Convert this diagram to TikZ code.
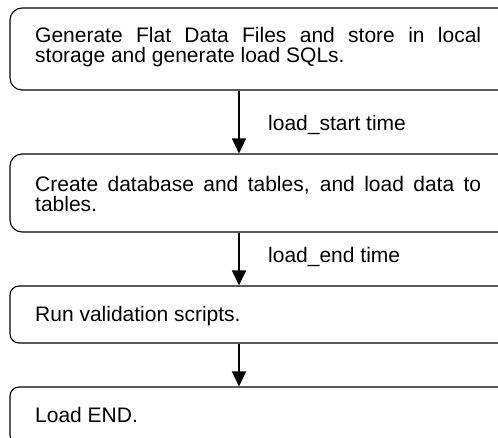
\documentclass[tikz,border=0pt]{standalone}
\usepackage{fontspec}
\setmainfont{Liberation Sans}
\usetikzlibrary{arrows.meta}
\begin{document}
\begin{tikzpicture}[x=1pt,y=-1pt,
  boxbig/.style={draw=black, line width=1.1pt, rounded corners=12pt, minimum width=501pt, inner sep=0pt},
  boxsmall/.style={draw=black, line width=1.1pt, rounded corners=9pt, minimum width=501pt, inner sep=0pt},
  txt/.style={anchor=base west, inner sep=0pt, font=\fontsize{21pt}{20pt}\selectfont},
  arr/.style={line width=1.1pt, -{Triangle[length=15pt,width=14pt]}}]
\useasboundingbox (0,0) rectangle (498,437);
\clip (0,0) rectangle (498,437);
\fill[white] (0,0) rectangle (498,437);
% boxes
\node[boxbig, minimum height=82pt] (b1) at (260.5,49) {};
\node[boxbig, minimum height=78pt] (b2) at (260.5,193) {};
\node[boxsmall, minimum height=57pt] (b3) at (260.5,314.5) {};
\node[boxsmall, minimum height=57pt] (b4) at (260.5,415.5) {};
% texts
\node[txt] (t1a) at (35,42) {\makebox[446pt][s]{Generate Flat Data Files and store in local}};
\node[txt] (t1b) at (35,62) {storage and generate load SQLs.};
\node[txt] (t2a) at (35,191) {\makebox[446pt][s]{Create database and tables, and load data to}};
\node[txt] (t2b) at (35,211.5) {tables.};
\node[txt] (t3) at (35,321) {Run validation scripts.};
\node[txt] (t4) at (35,422) {Load END.};
% connectors
\coordinate (ax) at (239,0);
\draw[arr] (b1.south -| ax) -- (b2.north -| ax);
\draw[arr] (b2.south -| ax) -- (b3.north -| ax);
\draw[arr] (b3.south -| ax) -- (b4.north -| ax);
% labels
\node[txt] (l1) at (268,130) {load\_start time};
\node[txt] (l2) at (268,262) {load\_end time};
\end{tikzpicture}
\end{document}
